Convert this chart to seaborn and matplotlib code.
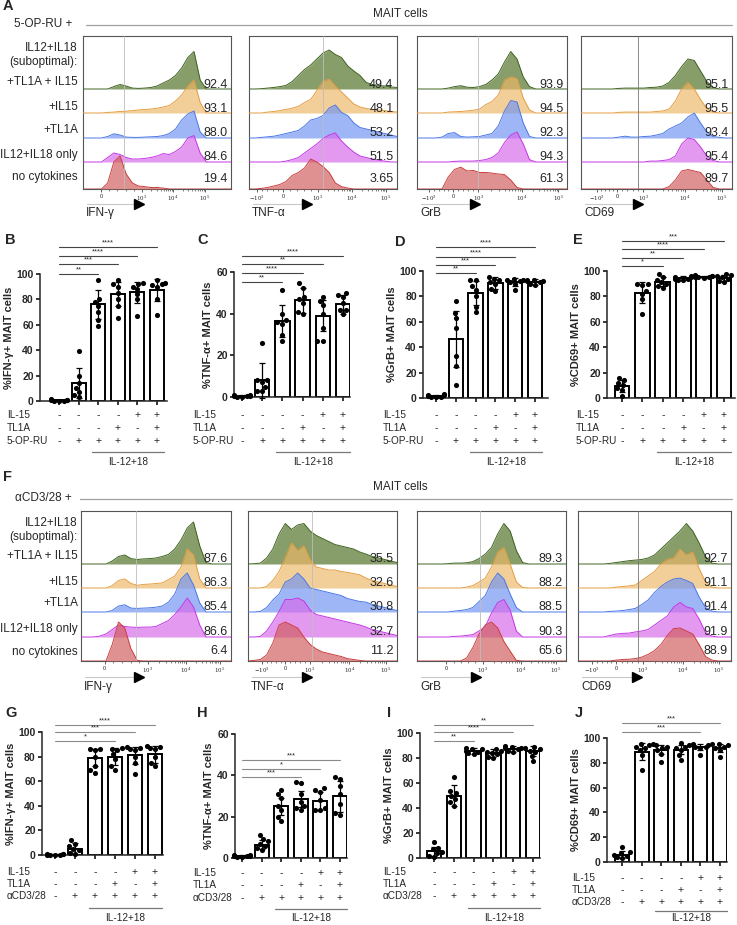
import numpy as np
import pandas as pd
import matplotlib
matplotlib.use('Agg')
import matplotlib.pyplot as plt
import matplotlib.transforms as mtransforms
import seaborn as sns

W, H = 737, 925

# ---------------- flow histograms (heights per channel bin, rows top -> bottom) ----------------
row_names = ['+TL1A + IL15', '+IL15', '+TL1A', 'IL12+IL18 only', 'no cytokines']
markers = ['IFN-γ', 'TNF-α', 'GrB', 'CD69']

# 5-OP-RU stimulation
ifng_5op = [[0,0,0,0,0,0.8,1.5,1,0.3,0.2,0.3,0.5,1,2,3,4.5,7,10.5,12.5,3,0,0,0,0,0],
            [0,0,0,0,0.2,0.3,0.5,0.6,0.8,1,1.2,1.3,1.6,2,2.5,4,6,9,11,3.5,0,0,0,0,0],
            [0,0,0,0,0.5,1.4,1,0.3,0.2,0.2,0.3,0.4,0.5,0.8,1.5,3,6,8,9,2,0,0,0,0,0],
            [0,0,0,0,1.5,3,2.5,1.5,1,1,1.2,1.5,2,2.8,2.5,3.5,5,8,8.8,3,0,0,0,0,0],
            [0,0,0,0,2,9,11,5,2,1,0.8,0.5,0.5,0.3,0,0,0,0,0,0,0,0,0,0,0]]
tnfa_5op = [[0,0,0.1,0.3,0.5,0.8,1.2,2.5,4.5,6.5,8,10,12,13,11.5,10.5,7.7,6,4.5,2.2,1.5,1.2,1,0.7,0.5],
            [0,0,0,0.3,0.5,0.8,1.2,1.6,2.2,3.5,4.5,7.5,10.5,11.3,9,7,5,3,2,1.5,1.2,1,0.8,0.5,0.3],
            [0,0,0.2,0.4,0.6,1,1.5,2,2.5,4,6,6.5,7.5,10,11,8.5,7.5,5,3.5,3,2.5,2,1.5,1,0.5],
            [0,0,0,0,0,0,0.3,0.8,1.5,3,4.5,6,7.8,9,9.7,7,5,3.3,2,1.5,1,0.6,0.3,0,0],
            [0,0,0.2,0.5,1,1.5,2.5,4.5,5.5,7,10,9,7.5,5.5,2,0.8,0.3,0,0,0,0,0,0,0,0]]
grb_5op = [[0,0,0,0,0,0.3,0.8,1.1,0.6,0.5,0.8,1.5,3,5,9,12.5,10,4,0.8,0,0,0,0,0,0],
           [0,0,0,0,0,0.3,0.4,0.5,0.7,0.9,1.3,2.8,3.8,6,11,12,11.5,5,1,0,0,0,0,0,0],
           [0,0,0,0,0.3,1.5,1.8,0.5,0.3,0.4,0.5,1,1.5,4,9,12.5,12,5,0.5,0,0,0,0,0,0],
           [0,0,0,0,0,0,0.2,0.3,0.3,0.3,0.5,0.8,1.5,3,6.5,9,10,6,0.8,0,0,0,0,0,0],
           [0,0,0,0,0,4,6.5,7.3,6,6.2,5.5,5.5,5.3,5,4.8,3,0.5,0,0,0,0,0,0,0,0]]
cd69_5op = [[0,0,0,0,0,0,0.2,0.3,0.3,0.3,0.3,0.5,0.6,1,2.2,4.5,7.5,10,9.5,6,2.5,0.5,0,0,0],
            [0,0,0,0,0,0,0.2,0.3,0.3,0.3,0.3,0.3,0.5,0.7,1.3,4,8,10.2,8,4.5,1.5,0.3,0,0,0],
            [0,0,0,0,0,0,0.3,0.6,0.3,0.3,0.5,0.6,1,1.5,3,4,5,7,8.3,5,2,0.5,0.2,0,0],
            [0,0,0,0,0,0,0,0,0,0,0,0.3,0.3,0.5,0.8,2,6,8,7.5,5,2,0.5,0,0,0],
            [0,0,0,0,0,0,0,0,0,0,0,0,0,0,0.8,3,6,6.5,6,5.5,3,0.5,0,0,0]]
pct_5op = [['92.4', '93.1', '88.0', '84.6', '19.4'],
           ['49.4', '48.1', '53.2', '51.5', '3.65'],
           ['93.9', '94.5', '92.3', '94.3', '61.3'],
           ['95.1', '95.5', '93.4', '95.4', '89.7']]

# aCD3/28 stimulation
ifng_cd3 = [[0,0,0,0,0,1,2.5,3,1.8,1.5,1.7,1.8,2,2.5,3.2,5,8,12,14,6,0.5,0,0,0,0],
            [0,0,0,0,0,0.8,2.5,3,1.5,0.9,1.2,1.3,1.5,1.7,2.8,4,7,13,11,3,0,0,0,0,0],
            [0,0,0,0,0,0.5,2,2.4,1.3,1.2,1.3,1.4,1.6,2,3.3,6,11,13,9,3,0,0,0,0,0],
            [0,0,0,0.3,1,2.5,4,3.5,3.3,3.2,3.3,3.3,3.5,4.5,5.5,7.5,10,13,10,4,0,0,0,0,0],
            [0,0,0,0,0,5.5,13,11,4,0.2,0,0,0,0,0,0,0,0,0,0,0,0,0,0,0]]
tnfa_cd3 = [[0,0.1,0.3,2,5,10,13.5,11.5,13,13.5,11,9.5,8.5,7.5,6.5,6,5.5,5,4,3.3,2.5,2,1.5,1,0.5],
            [0,0,0,0.5,2.5,5.5,10,15,12.5,14,9.5,7,6.5,6,6,5.5,5.2,4.8,4.4,3.3,2.5,2,1.5,1,0.5],
            [0,0,0.2,1.5,4,6,10,11,13,11,8,7.5,7,6.5,6,5.5,4.5,4,3.5,3.3,2.5,2,1.5,1,0.5],
            [0,0,0.2,2,5,8.5,12.5,12.5,13,12,9,7.5,7,6.5,6,5.5,5,4.5,4,3.3,2.5,2,1.5,1,0.5],
            [0,0.2,0.5,2,6,12,13,12,11,8,5.5,4,3,2.5,2,1.5,0.8,0.5,0.2,0,0,0,0,0,0]]
grb_cd3 = [[0,0,0,0,0,0.1,0.3,0.3,0.4,0.8,1.8,3.3,5.5,10,13.5,11,4.5,0.5,0,0,0,0,0,0,0],
           [0,0,0,0,0,0,0,0,0.3,0.8,2,3.3,7,12,13.5,8,2,0.2,0,0,0,0,0,0,0],
           [0,0,0,0,0,0,0.3,0.5,0.8,1.5,3.5,5.5,10,13,11,6,1.5,0,0,0,0,0,0,0,0],
           [0,0,0,0,0,0,0.2,0.3,0.5,0.8,2,3.5,8,11.5,12.5,9,2,0,0,0,0,0,0,0,0],
           [0,0,0,0,0,0,0,0,1,4.5,9,12,13,11,6.5,3.3,0.2,0,0,0,0,0,0,0,0]]
cd69_cd3 = [[0,0,0,0,0,0.2,0.5,0.8,1.1,1.3,1.5,2,3,5,7,9,11,13.5,11,7,2.5,0.3,0,0,0],
            [0,0,0,0,0,0,0.3,0.5,0.7,1,2.5,4,5.5,8,9.5,10,13,11,12,6.5,2,0.3,0,0,0],
            [0,0,0,0,0,0.2,0.3,0.5,0.8,1.2,2.5,4,6.5,8.5,10,11,11.3,10.5,9.5,5,1.5,0.3,0,0,0],
            [0,0,0,0,0,0.5,1,1.2,1.3,1.7,2,2.5,4,5.5,7,10,11.5,10,9.5,6,1.5,0.3,0,0,0],
            [0,0,0,0,0,0,0.3,0.5,0.6,0.8,1.3,2.2,3.5,5.5,8.5,10.8,11,10,9,5.5,1.5,0.3,0,0,0]]
pct_cd3 = [['87.6', '86.3', '85.4', '86.6', '6.4'],
           ['35.5', '32.6', '30.8', '32.7', '11.2'],
           ['89.3', '88.2', '88.5', '90.3', '65.6'],
           ['92.7', '91.1', '91.4', '91.9', '88.9']]

# ---------------- bar charts: means, SD, individual donors ----------------
il15 = ['-', '-', '-', '-', '+', '+']
tl1a = ['-', '-', '-', '+', '-', '+']
stim = ['-', '+', '+', '+', '+', '+']

B_mean = [0.5, 14, 76, 84.5, 85.5, 87.5]
B_sd = [0.5, 12, 11.5, 9.5, 8.5, 8.5]
B_pts = [[0,0,0.3,0.5,0.8,1,1.2], [39,20,14,10,7,5,3], [95,80,78,75,70,64,59],
         [95,92,90,85,80,75,65], [93,92,90,88,84,80,67], [95,93,92,91,90,80,68]]
C_mean = [0.5, 8, 36.5, 46.5, 39, 44.5]
C_sd = [0.5, 8.5, 7.5, 6, 7.5, 4.5]
C_pts = [[0,0.2,0.4,0.5,0.7,0.9,1.2], [26,8,8,7,5,3,3], [51.5,40,37,36,35,30,27],
         [54.5,52.5,48,47,45,41,40], [48,46,44,40,33,27,27], [50,49,48,45,42,42,40]]
D_mean = [1.5, 46.5, 83, 90.5, 91.5, 91.5]
D_sd = [1, 22, 9.5, 4.5, 3, 2.5]
D_pts = [[0.5,1,1,1.5,2,2.5,3], [76,67,63,55,33,25,10.5], [93,93,88,85,80,72,67.5],
         [95,94,93,91,90,86,84], [94,93,93,92,91,90,85], [93,93,92,92,91,90,89]]
E_mean = [9.5, 83, 91.5, 94.5, 95.5, 94.5]
E_sd = [4.5, 8, 3.5, 1.5, 0.8, 2.5]
E_pts = [[16,14,12,10,8,6,1.5], [90,90,89,84,82,78,66], [98,95,93,91,90,88,87],
         [96,95,95,94,94,93,93], [96.5,96,96,95.5,95,95,94.5], [98,97,96,95,94,92,91]]
G_mean = [0.3, 5, 79, 80, 81, 82]
G_sd = [0.3, 4.5, 7, 7, 7, 7]
G_pts = [[0,0,0.2,0.3,0.5,0.7,1], [12,9,7,5,4,2,1], [86,86,85,80,72,69,67],
         [87,86,85,82,78,72,69], [88,87,86,85,80,75,66], [89,88,87,86,80,75,72]]
H_mean = [1, 6.5, 25, 28.5, 27.5, 30]
H_sd = [0.4, 2, 4, 4, 4.5, 7.5]
H_pts = [[0.5,0.7,0.8,1,1.2,1.3,1.5], [11,9,8,7,6,5,4], [33,31,29,25,23,20,18],
         [37,36.5,31,27,25,24,23], [34,33,32,28,24,23,23], [39,38,35,31,26,22,21]]
I_mean = [5.5, 50, 85.5, 84, 87.5, 85.5]
I_sd = [3.5, 8.5, 2.5, 3, 2.5, 4]
I_pts = [[13,8,7,5,4,2,0.5], [65,54,52,50,47,45,42], [88,87,87,86,85,84,83],
         [87,86,85,84,83,81,80], [90,89,88,88,87,86,85], [89,88,87,86,85,82,78]]
J_mean = [6, 89, 90.5, 90.5, 92.5, 92]
J_sd = [3, 7, 3.5, 3.5, 2.5, 3]
J_pts = [[12,8,7,6,5,4,3], [95,94,93,92,90,86,74], [95,94,93,92,90,87,81],
         [96,94,93,92,90,86,82], [95,94,94,93,93,92,86], [95,95,94,93,92,90,85]]

B_sig = [(2, '**'), (3, '***'), (4, '****'), (5, '****')]
C_sig = [(2, '**'), (3, '****'), (4, '**'), (5, '****')]
D_sig = [(2, '**'), (3, '***'), (4, '****'), (5, '****')]
E_sig = [(2, '*'), (3, '**'), (4, '****'), (5, '***')]
G_sig = [(3, '*'), (4, '***'), (5, '****')]
H_sig = [(3, '***'), (4, '*'), (5, '***')]
I_sig = [(2, '**'), (4, '****'), (5, '**')]
J_sig = [(4, '***'), (5, '***')]

# ---------------- figure ----------------
sns.set_style('ticks')
plt.rcParams['font.family'] = ['Liberation Sans', 'DejaVu Sans']
plt.rcParams['mathtext.fontset'] = 'dejavuserif'
fig = plt.figure(figsize=(W / 100, H / 100), dpi=100)

over = fig.add_axes([0, 0, 1, 1], zorder=20)
over.set_xlim(0, W)
over.set_ylim(H, 0)
over.axis('off')
over.patch.set_alpha(0)


def px_axes(l, t, r, b):
    return fig.add_axes([l / W, 1 - b / H, (r - l) / W, (b - t) / H])


hist_fill = ['#4f7024', '#ecb869', '#7094f1', '#d869ea', '#d05b5b']
hist_edge = ['#3e6420', '#e69d40', '#4a78e8', '#c437e6', '#cc3f3f']
num_off = [1.5, 1.5, 2, 2, 7]


def minor_ticks(ticks, labels):
    out = []
    for i in range(len(ticks) - 1):
        p, q = ticks[i], ticks[i + 1]
        if labels[i].startswith('$10') and labels[i + 1].startswith('$10'):
            out += [p + np.log10(k) * (q - p) for k in range(2, 10)]
        else:
            out += list(np.linspace(p, q, 6)[1:-1])
    return out


def hist_panel(l, r, top, bottom, bases, curves, nums, ticks, gate, gate_col):
    ax = px_axes(l, top, r, bottom)
    x = np.arange(25)
    for k in range(5):
        y = bases[k] + 3 * np.asarray(curves[k], float)
        ax.fill_between(x, bases[k], y, color=hist_fill[k], alpha=0.68,
                        linewidth=0, zorder=2 + 2 * k)
        sns.lineplot(x=x, y=y, color=hist_edge[k], linewidth=0.7, ax=ax,
                     zorder=3 + 2 * k)
        ax.text(24 - 3.5 * 24 / (r - l), bases[k] + num_off[k], nums[k],
                ha='right', va='baseline', fontsize=9, zorder=30)
    ax.axvline(gate, color=gate_col, linewidth=0.6, zorder=25)
    ax.set_xlim(0, 24)
    ax.set_ylim(0, bottom - top)
    ax.set_yticks([])
    pos = [t[0] for t in ticks]
    labs = [t[1] for t in ticks]
    ax.set_xticks(pos)
    ax.set_xticklabels(labs, fontsize=4)
    ax.set_xticks(minor_ticks(pos, labs), minor=True)
    ax.tick_params(axis='x', which='major', length=2.5, width=0.5, pad=1.2, color='#222')
    ax.tick_params(axis='x', which='minor', length=1.5, width=0.4, color='#222')
    for s in ax.spines.values():
        s.set_color('#555')
        s.set_linewidth(0.8)
    ax.set_xlabel('')
    ax.set_ylabel('')
    return ax


def hist_section(top, bottom, bases, panels, data, pcts, tri_x, arrow_y, lab_y,
                 header, header_y, header_x0, mait_y, label_ys):
    for (l, r, ticks, gate), curves, nums in zip(panels, data, pcts):
        gcol = '#777777' if l > 570 else '#bdbdbd'
        hist_panel(l, r, top, bottom, bases, curves, nums, ticks, gate, gcol)
    for (l, r, _, _), tx, name in zip(panels, tri_x, markers):
        over.plot([l + 4, tx], [arrow_y, arrow_y], color='#c8c8c8', lw=0.8)
        over.plot([tx], [arrow_y], marker='>', markersize=7, color='black')
        over.text(l + 3, lab_y, name, ha='left', va='center', fontsize=8.5)
    over.text(72, header_y, header, ha='right', va='center', fontsize=8.5)
    over.plot([header_x0, 732], [header_y + 1, header_y + 1], color='#a0a0a0', lw=0.9)
    over.text(373, mait_y, 'MAIT cells', ha='left', va='center', fontsize=8.5)
    labels = ['IL12+IL18', '(suboptimal):'] + row_names
    for lab, yy in zip(labels, label_ys):
        over.text(78, yy, lab, ha='right', va='center', fontsize=8.5)


T = lambda e: '$' + e + '$'
panels_A = [(83, 231, [(2.92, '0'), (9.56, T('10^3')), (14.6, T('10^4')), (19.8, T('10^5'))], 6.65),
            (249, 397, [(1.3, T('-10^3')), (5.5, '0'), (11.2, T('10^3')), (16.7, T('10^4')), (22.2, T('10^5'))], 12.0),
            (417, 567, [(1.9, T('-10^3')), (5.8, '0'), (9.8, T('10^3')), (16.8, T('10^4')), (22.6, T('10^5'))], 9.8),
            (581, 732, [(2.5, T('-10^3')), (5.7, '0'), (9.9, T('10^3')), (16.5, T('10^4')), (22.4, T('10^5'))], 9.1)]
panels_F = [(81, 231, [(3.8, '0'), (10.7, T('10^3')), (16.8, T('10^4')), (22.2, T('10^5'))], 8.8),
            (248, 397, [(2.25, T('-10^3')), (6.0, '0'), (10.0, T('10^3')), (16.3, T('10^4')), (22.2, T('10^5'))], 10.3),
            (417, 566, [(4.7, '0'), (10.6, T('10^3')), (16.7, T('10^4')), (22.4, T('10^5'))], 10.1),
            (578, 731, [(2.2, T('-10^3')), (6.0, '0'), (10.2, T('10^3')), (16.5, T('10^4')), (22.1, T('10^5'))], 9.4)]

hist_section(36, 189, [100, 76, 51, 27, 0], panels_A,
             [ifng_5op, tnfa_5op, grb_5op, cd69_5op], pct_5op,
             [139, 307, 475, 638], 204, 213, '5-OP-RU +', 24, 86, 14,
             [48, 62, 82, 107, 130, 155, 177])
hist_section(511, 661, [97, 73, 49, 24, 0], panels_F,
             [ifng_cd3, tnfa_cd3, grb_cd3, cd69_cd3], pct_cd3,
             [139, 307, 476, 637], 677, 687, 'αCD3/28 +', 498, 80, 487,
             [523, 537, 556, 582, 603, 629, 652])

# ---------------- bar panels ----------------
# spine px, first bar px, bar spacing px, right px, top px, zero px, ymax
bar_layout = {
    'B': (40, 59, 19.6, 167, 274, 401, 100),
    'C': (234, 242, 20.2, 350, 272, 397, 60),
    'D': (423, 436, 19.8, 548, 271, 398, 100),
    'E': (607, 622, 20.4, 735, 271, 398, 100),
    'G': (42, 55, 20, 163, 732, 855, 100),
    'H': (235, 242, 19.6, 347, 734, 858, 60),
    'I': (420, 434, 19.8, 540, 733, 858, 100),
    'J': (607, 622, 19.6, 727, 738, 862, 100),
}
sig_levels = {'B': [100, 107.9, 114.2, 121.3], 'C': [55.2, 59.5, 63.8, 67.7],
              'D': [98.4, 104.7, 111, 118.9], 'E': [103.9, 110.2, 117.3, 123.6],
              'G': [92.7, 100, 105.7], 'H': [39.2, 43.1, 47.4],
              'I': [93.6, 100.8, 106.4], 'J': [104.8, 112.1]}
table_y = {'B': (415, 428, 441, 452, 462), 'C': (415, 428, 441, 452, 462),
           'D': (415, 428, 441, 452, 462), 'E': (415, 428, 441, 452, 462),
           'G': (872, 884, 896, 908, 918), 'H': (873, 885, 898, 909, 918),
           'I': (872, 884, 896, 908, 918), 'J': (878, 890, 902, 911, 918)}
table_x = {'B': 7, 'C': 193, 'D': 383, 'E': 576, 'G': 7, 'H': 193, 'I': 383, 'J': 572}
letter_xy = {'B': (5, 240), 'C': (197, 240), 'D': (395, 242), 'E': (573, 240),
             'G': (5, 713), 'H': (197, 713), 'I': (387, 713), 'J': (575, 713)}


def bar_panel(key, means, sds, pts, ylabel, sig, stim_name):
    spine, bar0, sp, right, ytop, y0, ymax = bar_layout[key]
    ax = px_axes(spine, ytop, right, y0)
    xs = list(range(6))
    sns.barplot(x=xs, y=means, color='white', edgecolor='black', linewidth=1.4,
                width=0.72, errorbar=None, ax=ax, zorder=2)
    ax.errorbar(xs, means, yerr=sds, fmt='none', ecolor='black', elinewidth=0.9,
                capsize=2.5, capthick=0.9, zorder=3)
    df = pd.DataFrame({'grp': np.repeat(xs, [len(p) for p in pts]),
                       'val': np.concatenate(pts)})
    sns.swarmplot(data=df, x='grp', y='val', color='black', size=3.7, ax=ax, zorder=4)
    ax.set_xlim((spine - bar0) / sp, (right - bar0) / sp)
    ax.set_ylim(0, ymax)
    yt = list(range(0, ymax + 1, 20))
    ax.set_yticks(yt)
    ax.set_yticklabels([str(v) for v in yt], fontsize=7.5, fontweight='bold')
    ax.set_xticks(xs)
    ax.set_xticklabels([])
    ax.tick_params(axis='both', length=3, width=1.1, pad=1.5, color='black')
    sns.despine(ax=ax)
    ax.spines['left'].set_linewidth(1.1)
    ax.spines['bottom'].set_linewidth(1.1)
    ax.set_ylabel(ylabel, fontsize=8, fontweight='bold', labelpad=2)
    ax.set_xlabel('')
    for c in ax.collections:
        c.set_clip_on(False)
    for line in ax.lines:
        line.set_clip_on(False)
    lcol = '#444444' if key in 'BCDE' else '#8a8a8a'
    for (j, stars), yy in zip(sig, sig_levels[key]):
        ax.plot([0, j], [yy, yy], color=lcol, lw=0.8, clip_on=False)
        ax.annotate(stars, xy=(j / 2, yy), xytext=(0, 0.2), textcoords='offset points',
                    ha='center', va='bottom', fontsize=5.5, annotation_clip=False)
    # condition table
    trans = mtransforms.blended_transform_factory(ax.transData, fig.transFigure)
    y1, y2, y3, yl, yt2 = table_y[key]
    for signs, yy, name in zip([il15, tl1a, stim], [y1, y2, y3], ['IL-15', 'TL1A', stim_name]):
        over.text(table_x[key], yy, name, ha='left', va='center', fontsize=7.2)
        for i, s in enumerate(signs):
            ax.text(i, 1 - yy / H, s, transform=trans, ha='center', va='center',
                    fontsize=7.5, clip_on=False)
    ax.plot([1.7, 5.36], [1 - yl / H] * 2, transform=trans, color='#777777', lw=0.9,
            clip_on=False)
    ax.text(3.52, 1 - yt2 / H, 'IL-12+18', transform=trans, ha='center', va='center',
            fontsize=7.2, clip_on=False)
    lx, ly = letter_xy[key]
    over.text(lx, ly, key, ha='left', va='center', fontsize=10.5, fontweight='bold')


bar_panel('B', B_mean, B_sd, B_pts, '%IFN-γ+ MAIT cells', B_sig, '5-OP-RU')
bar_panel('C', C_mean, C_sd, C_pts, '%TNF-α+ MAIT cells', C_sig, '5-OP-RU')
bar_panel('D', D_mean, D_sd, D_pts, '%GrB+ MAIT cells', D_sig, '5-OP-RU')
bar_panel('E', E_mean, E_sd, E_pts, '%CD69+ MAIT cells', E_sig, '5-OP-RU')
bar_panel('G', G_mean, G_sd, G_pts, '%IFN-γ+ MAIT cells', G_sig, 'αCD3/28')
bar_panel('H', H_mean, H_sd, H_pts, '%TNF-α+ MAIT cells', H_sig, 'αCD3/28')
bar_panel('I', I_mean, I_sd, I_pts, '%GrB+ MAIT cells', I_sig, 'αCD3/28')
bar_panel('J', J_mean, J_sd, J_pts, '%CD69+ MAIT cells', J_sig, 'αCD3/28')

over.text(3, 6, 'A', ha='left', va='center', fontsize=10.5, fontweight='bold')
over.text(3, 477, 'F', ha='left', va='center', fontsize=10.5, fontweight='bold')

fig.savefig('out.png', dpi=100)
